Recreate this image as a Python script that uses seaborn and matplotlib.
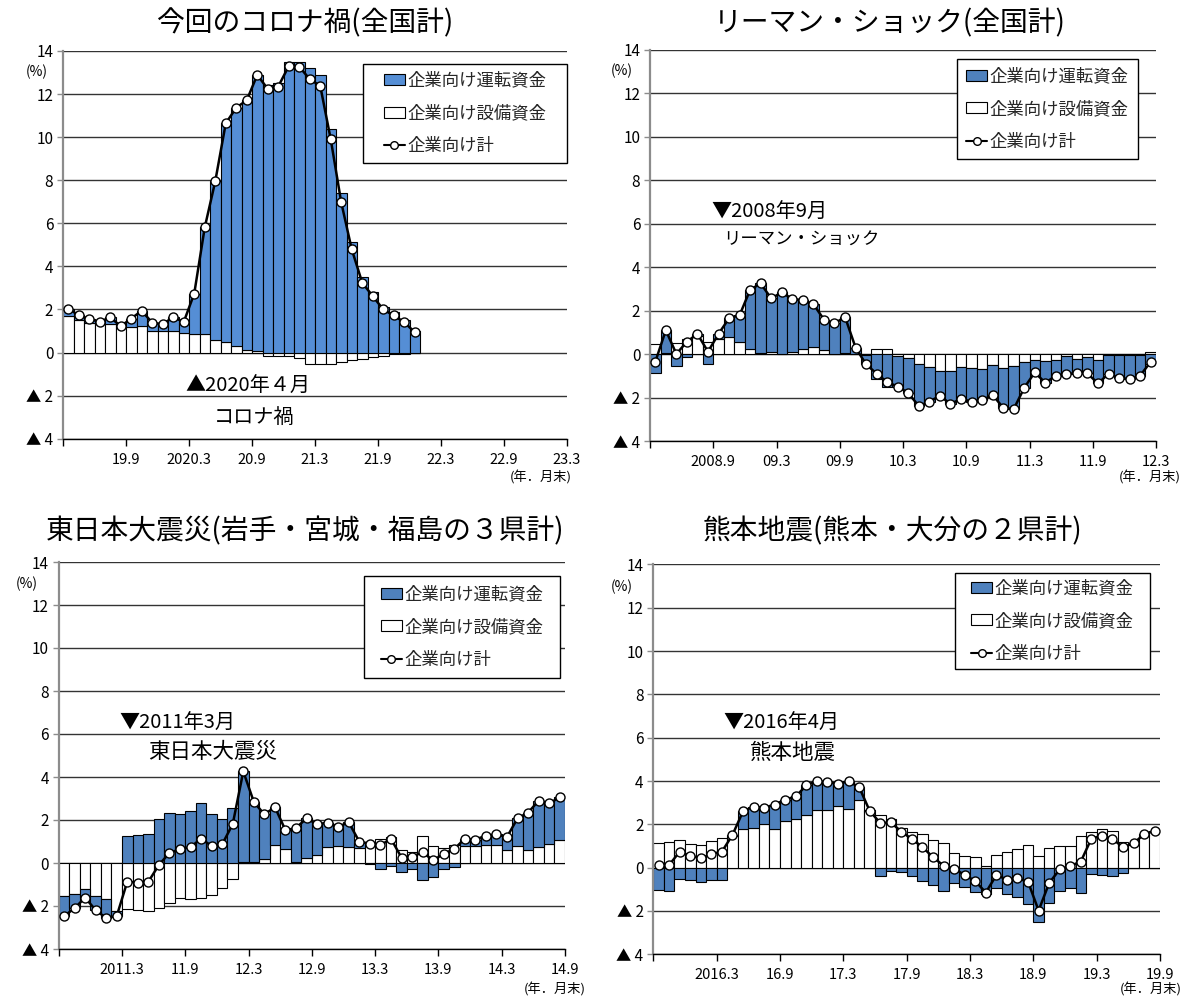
import numpy as np
import matplotlib
matplotlib.use("Agg")
import matplotlib.pyplot as plt
import seaborn as sns
from matplotlib.patches import Patch, Rectangle
from matplotlib.lines import Line2D

# ---------------- data ----------------
labels_legend = ["企業向け運転資金", "企業向け設備資金", "企業向け計"]
ytick_vals = [-4, -2, 0, 2, 4, 6, 8, 10, 12, 14]
ytick_labels = ["▲ 4", "▲ 2", "0", "2", "4", "6", "8", "10", "12", "14"]

# Panel 1: 今回のコロナ禍（全国計）
p1_title = "今回のコロナ禍(全国計)"
p1_ticks = ["", "19.9", "2020.3", "20.9", "21.3", "21.9", "22.3", "22.9", "23.3"]
p1_equip = [1.69, 1.53, 1.38, 1.32, 1.32, 1.22, 1.19, 1.22, 1.00, 1.00, 0.99, 0.91, 0.85, 0.85, 0.57, 0.51, 0.29,
            0.11, 0.06, -0.17, -0.17, -0.17, -0.26, -0.51, -0.51, -0.51, -0.42, -0.36, -0.29, -0.23, -0.15, -0.09,
            -0.05, -0.02]
p1_work = [0.33, 0.20, 0.18, 0.10, 0.32, 0.05, 0.39, 0.72, 0.38, 0.32, 0.65, 0.51, 1.89, 4.96, 7.38, 10.13, 11.08,
           11.60, 12.83, 12.41, 12.52, 13.50, 13.50, 13.20, 12.90, 10.40, 7.39, 5.13, 3.49, 2.80, 2.12, 1.89, 1.53,
           1.00]
p1_total = [2.04, 1.73, 1.56, 1.42, 1.64, 1.22, 1.58, 1.94, 1.38, 1.32, 1.64, 1.42, 2.74, 5.81, 7.95, 10.64, 11.37,
            11.71, 12.89, 12.24, 12.35, 13.30, 13.27, 12.69, 12.38, 9.90, 6.97, 4.79, 3.24, 2.62, 2.00, 1.72, 1.41,
            0.94]

# Panel 2: リーマン・ショック（全国計）
p2_title = "リーマン・ショック(全国計)"
p2_ticks = ["", "2008.9", "09.3", "09.9", "10.3", "10.9", "11.3", "11.9", "12.3"]
p2_equip = [0.49, 0.05, 0.54, 0.71, 0.84, 0.57, 0.70, 0.80, 0.58, 0.26, 0.08, 0.12, 0.03, 0.09, 0.23, 0.34, 0.22,
            0.03, 0.08, 0.00, -0.05, 0.26, 0.23, -0.08, -0.15, -0.43, -0.58, -0.75, -0.77, -0.58, -0.63, -0.68,
            -0.51, -0.62, -0.54, -0.37, -0.25, -0.32, -0.25, -0.08, -0.20, -0.10, -0.26, -0.02, -0.02, -0.02,
            -0.02, 0.10]
p2_work = [-0.86, 1.06, -0.55, -0.14, 0.10, -0.46, 0.25, 0.85, 1.22, 2.71, 3.18, 2.45, 2.82, 2.46, 2.26, 1.97, 1.38,
           1.39, 1.64, 0.31, -0.41, -1.15, -1.51, -1.40, -1.63, -1.95, -1.59, -1.16, -1.51, -1.47, -1.54, -1.44,
           -1.35, -1.84, -1.98, -1.17, -0.58, -0.99, -0.73, -0.83, -0.66, -0.78, -1.08, -0.87, -1.06, -1.12,
           -0.96, -0.44]
p2_total = [-0.35, 1.11, 0.02, 0.58, 0.94, 0.12, 0.94, 1.66, 1.80, 2.97, 3.26, 2.57, 2.85, 2.55, 2.49, 2.31, 1.60,
            1.42, 1.72, 0.31, -0.46, -0.89, -1.28, -1.48, -1.78, -2.38, -2.17, -1.91, -2.28, -2.05, -2.17, -2.12,
            -1.86, -2.46, -2.52, -1.54, -0.83, -1.31, -0.98, -0.91, -0.86, -0.88, -1.34, -0.89, -1.08, -1.14,
            -0.98, -0.34]

# Panel 3: 東日本大震災（岩手・宮城・福島の３県計）
p3_title = "東日本大震災(岩手・宮城・福島の３県計)"
p3_ticks = ["", "2011.3", "11.9", "12.3", "12.9", "13.3", "13.9", "14.3", "14.9"]
p3_equip = [-1.52, -1.46, -1.21, -1.52, -1.69, -2.25, -2.14, -2.20, -2.22, -2.11, -1.88, -1.63, -1.67, -1.64,
            -1.47, -1.15, -0.73, 0.05, 0.06, 0.17, 0.82, 0.64, 0.03, 0.25, 0.37, 0.76, 0.79, 0.73, 0.68, 0.96, 1.13,
            1.22, 0.60, 0.51, 1.27, 0.78, 0.71, 0.82, 0.78, 0.81, 0.84, 0.84, 0.60, 0.81, 0.60, 0.73, 0.88, 1.05]
p3_work = [-0.95, -0.65, -0.40, -0.67, -0.87, -0.22, 1.26, 1.30, 1.36, 2.03, 2.34, 2.26, 2.40, 2.78, 2.26, 2.03,
           2.54, 4.21, 2.78, 2.09, 1.78, 0.88, 1.60, 1.83, 1.43, 1.12, 1.00, 1.16, 0.31, -0.06, -0.29, -0.12,
           -0.40, -0.28, -0.78, -0.67, -0.28, -0.17, 0.35, 0.28, 0.43, 0.49, 0.61, 1.27, 1.74, 2.17, 1.90, 2.00]
p3_total = [-2.47, -2.11, -1.61, -2.19, -2.56, -2.47, -0.87, -0.91, -0.87, -0.09, 0.47, 0.64, 0.74, 1.13, 0.79,
            0.87, 1.81, 4.26, 2.84, 2.26, 2.60, 1.52, 1.63, 2.08, 1.80, 1.88, 1.69, 1.89, 0.99, 0.90, 0.82, 1.13,
            0.25, 0.29, 0.50, 0.12, 0.43, 0.65, 1.13, 1.09, 1.27, 1.33, 1.21, 2.08, 2.34, 2.90, 2.78, 3.05]

# Panel 4: 熊本地震（熊本・大分の２県計）
p4_title = "熊本地震(熊本・大分の２県計)"
p4_ticks = ["", "2016.3", "16.9", "17.3", "17.9", "18.3", "18.9", "19.3", "19.9"]
p4_equip = [1.12, 1.17, 1.26, 1.09, 1.06, 1.22, 1.35, 1.48, 1.80, 1.82, 2.00, 1.77, 2.17, 2.25, 2.42, 2.66, 2.66,
            2.85, 2.71, 3.12, 2.62, 2.42, 2.25, 1.85, 1.66, 1.55, 1.26, 1.14, 0.66, 0.54, 0.48, 0.06, 0.60, 0.71,
            0.86, 1.03, 0.55, 0.92, 1.00, 1.00, 1.48, 1.63, 1.80, 1.68, 1.20, 1.14, 1.46, 1.69]
p4_work = [-1.03, -1.06, -0.51, -0.57, -0.65, -0.58, -0.58, 0.03, 0.80, 1.00, 0.77, 1.14, 0.97, 1.04, 1.38, 1.34,
           1.28, 1.03, 1.27, 0.60, 0.02, -0.37, -0.16, -0.19, -0.37, -0.62, -0.82, -1.09, -0.71, -0.88, -1.11,
           -1.21, -0.95, -1.23, -1.34, -1.68, -2.52, -1.63, -1.09, -0.95, -1.18, -0.28, -0.32, -0.38, -0.26,
           -0.02, 0.09, 0.00]
p4_total = [0.12, 0.12, 0.74, 0.55, 0.43, 0.63, 0.74, 1.51, 2.60, 2.82, 2.77, 2.91, 3.14, 3.29, 3.80, 4.00, 3.94,
            3.88, 3.98, 3.72, 2.62, 2.06, 2.09, 1.66, 1.32, 0.95, 0.48, 0.09, -0.05, -0.34, -0.62, -1.15, -0.34,
            -0.55, -0.49, -0.65, -1.98, -0.71, -0.08, 0.08, 0.28, 1.34, 1.48, 1.32, 0.95, 1.12, 1.55, 1.69]

# ---------------- style ----------------
sns.set_theme(style="white")
plt.rcParams['font.family'] = ['Noto Sans CJK JP', 'DejaVu Sans']
plt.rcParams['axes.unicode_minus'] = False

W, H = 1186, 999
fig = plt.figure(figsize=(W / 100, H / 100), dpi=100)
fig.patch.set_facecolor("white")


def add_axes_px(box):
    left, top, right, bottom = box
    return fig.add_axes([left / W, 1 - bottom / H, (right - left) / W, (bottom - top) / H])


def ftext(x, y, s, size, **kw):
    fig.text(x / W, 1 - y / H, s, fontsize=size, ha=kw.pop("ha", "center"), va=kw.pop("va", "center"),
             color="black", **kw)


def draw_panel(ax, axbox, equip, work, total, ticks, blue, legbox):
    equip = np.asarray(equip)
    work = np.asarray(work)
    n = len(total)
    x = np.arange(n) + 0.5
    ax.bar(x, equip, width=1.0, color="white", edgecolor="black", linewidth=0.8, zorder=2)
    bottom = np.where(np.sign(work) == np.sign(equip), equip, 0.0)
    ax.bar(x, work, bottom=bottom, width=1.0, color=blue, edgecolor="black", linewidth=0.8, zorder=2)
    sns.lineplot(x=x, y=total, ax=ax, color="black", linewidth=1.8, marker="o", markersize=6.5,
                 markerfacecolor="white", markeredgecolor="black", markeredgewidth=1.0, zorder=4,
                 legend=False)
    ax.set_xlim(0, 48)
    ax.set_ylim(-4, 14)
    ax.set_xticks(np.arange(0, 49, 6))
    ax.set_xticklabels(ticks)
    ax.set_yticks(ytick_vals)
    ax.set_yticklabels(ytick_labels)
    ax.set_xlabel("")
    ax.set_ylabel("")
    ax.yaxis.grid(True, color="#333333", linewidth=1.0)
    ax.xaxis.grid(False)
    ax.set_axisbelow(True)
    for s in ["top", "right"]:
        ax.spines[s].set_visible(False)
    ax.spines["left"].set_color("#8c8c8c")
    ax.spines["left"].set_linewidth(1.6)
    ax.spines["bottom"].set_color("black")
    ax.spines["bottom"].set_linewidth(1.0)
    ax.tick_params(axis="x", bottom=True, direction="out", length=5, width=1, color="black", pad=5,
                   labelsize=10.5, labelcolor="black")
    ax.tick_params(axis="y", left=True, direction="out", length=4, width=1, color="#8c8c8c", pad=3,
                   labelsize=11, labelcolor="black")

    # legend frame placed at its pixel box, content centred inside
    L, T, R, B = axbox
    l, t, r, b = legbox
    fx0, fx1 = (l - L) / (R - L), (r - L) / (R - L)
    fy0, fy1 = (B - b) / (B - T), (B - t) / (B - T)
    ax.add_patch(Rectangle((fx0, fy0), fx1 - fx0, fy1 - fy0, transform=ax.transAxes, facecolor="white",
                           edgecolor="black", linewidth=1.0, zorder=9, clip_on=False))
    handles = [Patch(facecolor=blue, edgecolor="black", linewidth=0.8),
               Patch(facecolor="white", edgecolor="black", linewidth=0.8),
               Line2D([0], [0], color="black", linewidth=1.5, marker="o", markersize=5.5,
                      markerfacecolor="white", markeredgecolor="black")]
    leg = ax.legend(handles, labels_legend, loc="center", bbox_to_anchor=((fx0 + fx1) / 2, (fy0 + fy1) / 2),
                    frameon=False, fontsize=12.5, handlelength=1.2, handleheight=0.6, handletextpad=0.15,
                    labelspacing=0.85, borderpad=0, borderaxespad=0)
    leg.set_zorder(10)


# Panel axes and legend boxes in pixel coordinates (left, top, right, bottom)
box1 = (63, 51, 567, 438.7)
box2 = (650, 50, 1156, 441.3)
box3 = (58.7, 562, 565, 949)
box4 = (653.3, 564.4, 1160, 954.3)
ax1 = add_axes_px(box1)
ax2 = add_axes_px(box2)
ax3 = add_axes_px(box3)
ax4 = add_axes_px(box4)

draw_panel(ax1, box1, p1_equip, p1_work, p1_total, p1_ticks, "#558ED5", (363, 64, 567, 163))
draw_panel(ax2, box2, p2_equip, p2_work, p2_total, p2_ticks, "#4F81BD", (957, 59, 1138, 159))
draw_panel(ax3, box3, p3_equip, p3_work, p3_total, p3_ticks, "#4F81BD", (364, 576, 560, 678))
draw_panel(ax4, box4, p4_equip, p4_work, p4_total, p4_ticks, "#4F81BD", (955, 573, 1150, 669))

# Titles
ftext(305, 23, p1_title, 20)
ftext(890, 23, p2_title, 20)
ftext(305, 531, p3_title, 20)
ftext(892, 531, p4_title, 20)

# Event annotations
ftext(248, 386, "▲2020年４月", 14.5)
ftext(254, 417, "コロナ禍", 14.5)
ftext(769, 212, "▼2008年9月", 14.5)
ftext(801, 240, "リーマン・ショック", 12.5)
ftext(177, 723, "▼2011年3月", 14.5)
ftext(213, 752, "東日本大震災", 15.5)
ftext(781, 723, "▼2016年4月", 14.5)
ftext(793, 753, "熊本地震", 15.5)

# Unit labels
for (ux, uy) in [(37, 72), (622, 71), (27, 584), (622, 587)]:
    ftext(ux, uy, "(%)", 10)
for (ux, uy) in [(541, 478), (1150, 478), (555, 989), (1151, 990)]:
    ftext(ux, uy, "(年．月末)", 9.5)

fig.savefig("out.png", dpi=100, facecolor="white")
